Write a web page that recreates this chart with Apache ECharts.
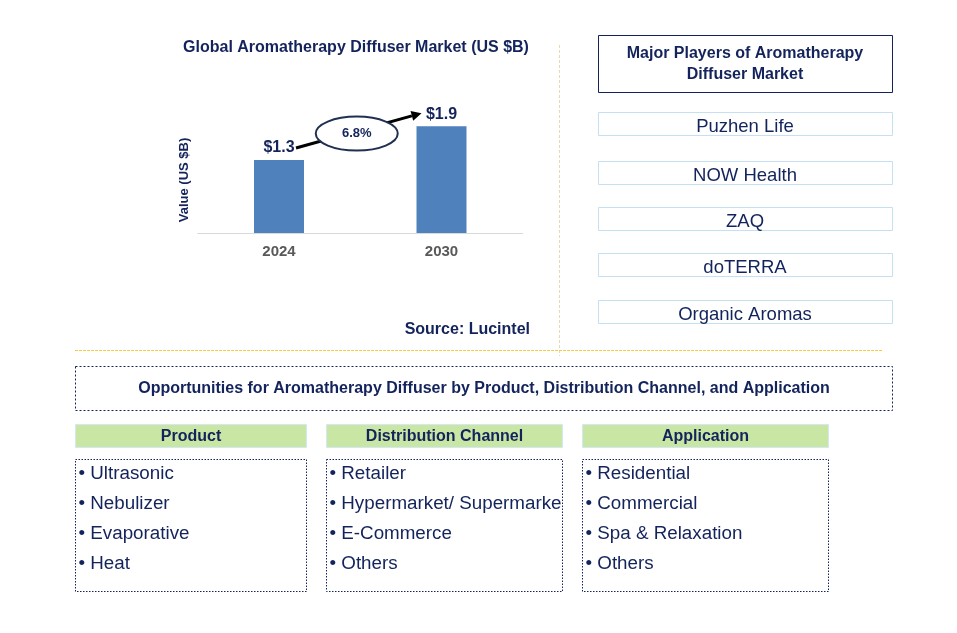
<!DOCTYPE html>
<html><head><meta charset="utf-8">
<script src="https://cdn.jsdelivr.net/npm/echarts@6/dist/echarts.min.js"></script>
<style>html,body{margin:0;padding:0;background:#fff}#c{width:957px;height:633px}</style>
</head><body><div id="c"></div>
<script>
const title = 'Global Aromatherapy Diffuser Market (US $B)';
const yName = 'Value (US $B)';
const categories = ['2024', '2030'];
const values = [1.3, 1.9];
const cagr = '6.8%';
const source = 'Source: Lucintel';
const playersTitle = 'Major Players of Aromatherapy\nDiffuser Market';
const players = ['Puzhen Life', 'NOW Health', 'ZAQ', 'doTERRA', 'Organic Aromas'];
const oppTitle = 'Opportunities for Aromatherapy Diffuser by Product, Distribution Channel, and Application';
const segHeads = ['Product', 'Distribution Channel', 'Application'];
const productItems = ['Ultrasonic', 'Nebulizer', 'Evaporative', 'Heat'];
const channelItems = ['Retailer', 'Hypermarket/ Supermarket', 'E-Commerce', 'Others'];
const appItems = ['Residential', 'Commercial', 'Spa & Relaxation', 'Others'];

const NAVY = '#13235b';
const FONT = 'Arial, "Liberation Sans", sans-serif';
const chart = echarts.init(document.getElementById('c'), null, {renderer: 'canvas'});

const option = {
  animation: false,
  backgroundColor: '#fff',
  title: {text: title, left: 351, top: 35, textAlign: 'center',
    textStyle: {color: NAVY, fontSize: 16, fontWeight: 'bold', fontFamily: FONT}},
  grid: {left: 197.75, width: 325, top: 92.5, bottom: 400},
  xAxis: {type: 'category', data: categories,
    axisLine: {lineStyle: {color: '#d9d9d9', width: 1}}, axisTick: {show: false},
    axisLabel: {color: '#595959', fontWeight: 'bold', fontSize: 15, fontFamily: FONT, margin: 11}},
  yAxis: {type: 'value', min: 0, max: 2.5, show: false},
  series: [{type: 'bar', data: values, barWidth: 50, itemStyle: {color: '#4f81bd'},
    label: {show: true, position: 'top', distance: 4, formatter: p => '$' + p.value,
      color: NAVY, fontWeight: 'bold', fontSize: 16, fontFamily: FONT}}],
  graphic: []
};
chart.setOption(option);

const g = [];
// y axis name
g.push({type: 'text', x: 184, y: 180, rotation: Math.PI / 2, style: {text: yName, align: 'center', verticalAlign: 'middle',
  fill: NAVY, font: 'bold 13px ' + FONT}});
// arrow + ellipse, anchored on bar tops
const p1 = chart.convertToPixel({seriesIndex: 0}, [0, values[0]]);
const p2 = chart.convertToPixel({seriesIndex: 0}, [1, values[1]]);
const s = [p1[0] + 17, p1[1] - 12];
const e = [p2[0] - 20, p2[1] - 13];
const ang = Math.atan2(e[1] - s[1], e[0] - s[0]);
const hl = 10, hw = 5;
const base = [e[0] - hl * Math.cos(ang), e[1] - hl * Math.sin(ang)];
g.push({type: 'line', shape: {x1: s[0], y1: s[1], x2: base[0], y2: base[1]}, style: {stroke: '#000', lineWidth: 3}, z: 10});
g.push({type: 'polygon', shape: {points: [e,
  [base[0] + hw * Math.sin(ang), base[1] - hw * Math.cos(ang)],
  [base[0] - hw * Math.sin(ang), base[1] + hw * Math.cos(ang)]]}, style: {fill: '#000'}, z: 10});
const mx = (s[0] + e[0]) / 2 - 2, my = (s[1] + e[1]) / 2 + 3;
g.push({type: 'ellipse', shape: {cx: mx, cy: my, rx: 41, ry: 17}, style: {fill: '#fff', stroke: '#1f3050', lineWidth: 2}, z: 11});
g.push({type: 'text', x: mx, y: my, z: 12, style: {text: cagr, align: 'center', verticalAlign: 'middle',
  fill: NAVY, font: 'bold 13px ' + FONT}});

// source
g.push({type: 'text', x: 530, y: 330, style: {text: source, align: 'right', verticalAlign: 'middle', fill: NAVY, font: 'bold 16px ' + FONT}});

// separators
g.push({type: 'line', shape: {x1: 559.5, y1: 45, x2: 559.5, y2: 356}, style: {stroke: '#e8d9b0', lineWidth: 1, lineDash: [3, 2]}});
g.push({type: 'line', shape: {x1: 75, y1: 350.5, x2: 882, y2: 350.5}, style: {stroke: '#f7c948', lineWidth: 1, lineDash: [3, 1]}});

// players panel
g.push({type: 'rect', shape: {x: 598.5, y: 35.5, width: 294, height: 57}, style: {fill: '#fff', stroke: NAVY, lineWidth: 1}});
g.push({type: 'text', x: 745, y: 64, style: {text: playersTitle, align: 'center', verticalAlign: 'middle', lineHeight: 21,
  fill: NAVY, font: 'bold 16px ' + FONT}});
const ptops = [112.5, 161.5, 207.5, 253.5, 300.5];
players.forEach((name, i) => {
  g.push({type: 'rect', shape: {x: 598.5, y: ptops[i], width: 294, height: 23}, style: {fill: '#fff', stroke: '#c5e0f2', lineWidth: 1}});
  g.push({type: 'text', x: 745, y: ptops[i] + 14, style: {text: name, align: 'center', verticalAlign: 'middle', fill: NAVY, font: '18.5px ' + FONT}});
});

// opportunities
g.push({type: 'rect', shape: {x: 75.5, y: 366.5, width: 817, height: 44}, style: {fill: '#fff', stroke: NAVY, lineWidth: 1, lineDash: [2, 2]}});
g.push({type: 'text', x: 484, y: 388.5, style: {text: oppTitle, align: 'center', verticalAlign: 'middle', fill: NAVY, font: 'bold 16px ' + FONT}});

const cols = [{x: 75.5, w: 231}, {x: 326.5, w: 236}, {x: 582.5, w: 246}];
const lists = [productItems, channelItems, appItems];
cols.forEach((c, i) => {
  g.push({type: 'rect', shape: {x: c.x, y: 424.5, width: c.w, height: 23}, style: {fill: '#c9e6a5', stroke: '#d3e8f5', lineWidth: 1}});
  g.push({type: 'text', x: c.x + c.w / 2, y: 437, style: {text: segHeads[i], align: 'center', verticalAlign: 'middle', fill: NAVY, font: 'bold 16px ' + FONT}});
  g.push({type: 'rect', shape: {x: c.x, y: 459.5, width: c.w, height: 132}, style: {fill: '#fff', stroke: NAVY, lineWidth: 1, lineDash: [1.5, 1.5]}});
  lists[i].forEach((it, j) => {
    g.push({type: 'text', x: c.x + 3, y: 473.5 + j * 30, z: 5, style: {text: '• ' + it, align: 'left', verticalAlign: 'middle',
      fill: NAVY, font: '18.8px ' + FONT, width: c.w + 1, overflow: 'truncate', ellipsis: ''}});
  });
});

chart.setOption({graphic: g});
</script></body></html>
